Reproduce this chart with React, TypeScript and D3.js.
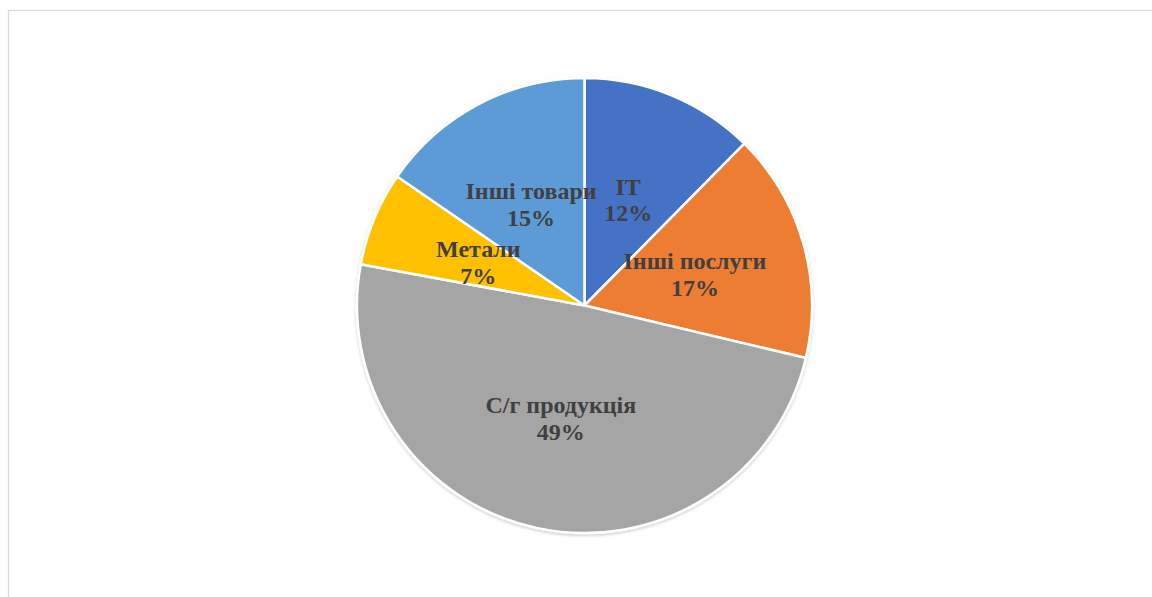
import React from "react";
import * as d3 from "d3";

const categories = ["IT", "Інші послуги", "С/г продукція", "Метали", "Інші товари"];
const values = [12.4, 16.3, 49.2, 6.7, 15.4];
const percentLabels = ["12%", "17%", "49%", "7%", "15%"];
const colors = ["#4472C4", "#ED7D31", "#A5A5A5", "#FFC000", "#5B9BD5"];

export default function App() {
  const W = 1152;
  const H = 597;
  const cx = 584.5;
  const cy = 305.5;
  const R = 227.5;
  const data = categories.map((c, i) => ({ c, v: values[i], p: percentLabels[i], color: colors[i] }));
  const pie = d3.pie<any>().value((d: any) => d.v).sort(null);
  const arcs = pie(data);
  const arc = d3.arc<any>().innerRadius(0).outerRadius(R);
  const labelArc = d3.arc<any>().innerRadius(R * 0.505).outerRadius(R * 0.505);
  return (
    <svg width={W} height={H} style={{ position: "fixed", left: 0, top: 0, display: "block" }}>
      <defs>
        <filter id="sh" x="-10%" y="-10%" width="120%" height="120%">
          <feDropShadow dx="0" dy="1.5" stdDeviation="1.5" floodColor="#000" floodOpacity="0.2" />
        </filter>
      </defs>
      <rect x={0} y={0} width={W} height={H} fill="#fff" />
      <rect x={8.5} y={10.5} width={1200} height={700} fill="#fff" stroke="#d9d9d9" strokeWidth={1.2} />
      <g transform={`translate(${cx},${cy})`}>
        <g filter="url(#sh)">
          {arcs.map((a, i) => (
            <path key={i} d={arc(a) as string} fill={a.data.color} stroke="#fff" strokeWidth={2.5} strokeLinejoin="round" />
          ))}
        </g>
        {arcs.map((a, i) => {
          const [x, y] = labelArc.centroid(a);
          return (
            <text
              key={"t" + i}
              x={x}
              y={y}
              textAnchor="middle"
              fontFamily="'Liberation Serif', 'Times New Roman', serif"
              fontWeight="bold"
              fontSize={24}
              fill="#404040"
            >
              <tspan x={x} dy={-4.5}>{a.data.c}</tspan>
              <tspan x={x} dy={26.5}>{a.data.p}</tspan>
            </text>
          );
        })}
      </g>
    </svg>
  );
}
